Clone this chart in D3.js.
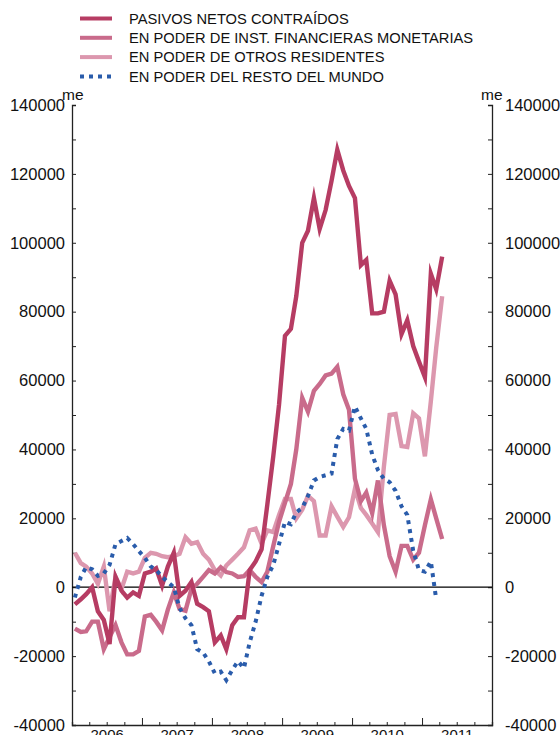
<!DOCTYPE html>
<html>
<head>
<meta charset="utf-8">
<script src="https://cdn.jsdelivr.net/npm/d3@7"></script>
<style>
  body { margin: 0; background: #fff; }
  svg { display: block; font-family: "Liberation Sans", Arial, Helvetica, sans-serif; }
</style>
</head>
<body>
<svg id="chart" width="560" height="735"></svg>
<script>
// monthly series, Jan 2006 .. Apr 2011 (millones de euros)
const months = d3.timeMonth.range(new Date(2006, 0, 1), new Date(2011, 4, 1));

const pasivosNetos = [
  -5000, -3500, -2000, 0, -7000, -9500, -16500, 3000, -1000, -3000, -1500, -2500,
  4000, 4500, 5500, 500, 6000, 10000, -2500, -1000, 1500, -4800, -5800, -7000,
  -16000, -14000, -18000, -11000, -8700, -8700, 5000, 7500, 11000, 24000, 38000, 53000,
  73000, 75000, 84500, 100000, 103500, 113000, 104000, 109500, 118000, 127000, 121000, 116500,
  113000, 93500, 95000, 79500, 79500, 80000, 89000, 85000, 73500, 77500, 70000, 65500,
  61000, 91000, 86500, 96000
];

const instFinancieras = [
  -12000, -13000, -12800, -10000, -10000, -18000, -14500, -11000, -16000, -19500, -19500, -18500,
  -8500, -8000, -10000, -12500, -6500, -1500, -6300, -6800, -500, 1000, 3000, 5000,
  4000, 5800, 4400, 4000, 3000, 3200, 5000, 3000, 1500, 4500, 12000, 19000,
  24500, 30000, 40000, 55000, 51000, 57000, 59000, 61500, 62000, 64000, 56000, 51500,
  31500, 25000, 27500, 21500, 31000, 18000, 9000, 4500, 12000, 12000, 8000, 10000,
  18000, 25500, 20000, 14000
];

const otrosResidentes = [
  10000, 7000, 6000, 4000, 1000, 6000, -7000, 3000, -500, 4500, 4000, 4500,
  8500, 10000, 9700, 9000, 8700, 9000, 9700, 14500, 12600, 13100, 9700, 8000,
  5000, 3400, 6300, 8000, 9700, 11600, 16500, 17000, 12600, 16500, 16000, 21000,
  25600, 25600, 20000, 22500, 26500, 25000, 15000, 15000, 23500, 20500, 17500, 20300,
  28600, 23000, 21000, 18500, 16000, 35000, 50000, 50300, 41000, 40700, 50500, 49000,
  38000, 54000, 69500, 84500
];

const restoMundo = [
  -3000, 3000, 5800, 5200, 3300, 4000, 6500, 12500, 13400, 14300, 12500, 10500,
  8500, 6000, 5000, 3000, 1500, 0, -6000, -9000, -11000, -18000, -19000, -21500,
  -25000, -24500, -27000, -24000, -21500, -23500, -16000, -10000, -2500, 3000, 6500, 12500,
  19000, 18300, 21800, 23000, 26500, 31000, 32000, 32500, 33000, 43000, 46000, 45500,
  52500, 49000, 46000, 38500, 34000, 31500, 30500, 28000, 23500, 21000, 10600, 5000,
  4500, 7500, -3500
];

const series = [
  { name: "EN PODER DE OTROS RESIDENTES", values: otrosResidentes, color: "#dc97ae", dash: null },
  { name: "EN PODER DE INST. FINANCIERAS MONETARIAS", values: instFinancieras, color: "#c96b8b", dash: null },
  { name: "PASIVOS NETOS CONTRAÍDOS", values: pasivosNetos, color: "#b63c63", dash: null },
  { name: "EN PODER DEL RESTO DEL MUNDO", values: restoMundo, color: "#2a5cab", dash: "4,5" }
];
const legendOrder = [2, 1, 0, 3];

const yTicks = d3.range(-40000, 140001, 10000);
const years = [2006, 2007, 2008, 2009, 2010, 2011];

// layout
const svg = d3.select("#chart");
const margin = { left: 72, right: 492, top: 105, bottom: 725 };

const x = d3.scaleTime()
  .domain([new Date(2006, 0, 1), new Date(2012, 0, 1)])
  .range([margin.left, margin.right]);

const y = d3.scaleLinear()
  .domain([-40000, 140000])
  .range([margin.bottom, margin.top]);

// mid-month position for each point
const xm = d => x(d3.timeDay.offset(d, 15));

// y axes
const fmt = d => (d % 20000 === 0 ? String(d) : "");

svg.append("g")
  .attr("transform", `translate(${margin.left},0)`)
  .call(d3.axisLeft(y).tickValues(yTicks).tickSize(-4).tickPadding(7).tickFormat(fmt))
  .call(g => g.selectAll("text").style("font-size", "16.5px").attr("fill", "#111"));

svg.append("g")
  .attr("transform", `translate(${margin.right},0)`)
  .call(d3.axisRight(y).tickValues(yTicks).tickSize(-4).tickPadding(13).tickFormat(fmt))
  .call(g => g.selectAll("text").style("font-size", "16.5px").attr("fill", "#111"));

// bottom axis: quarter ticks, longer at year boundaries
const quarters = d3.timeMonth.every(3).range(new Date(2006, 0, 1), new Date(2012, 0, 2));
svg.append("g")
  .attr("transform", `translate(0,${margin.bottom})`)
  .call(d3.axisBottom(x).tickValues(quarters).tickSize(-3).tickFormat(""))
  .call(g => g.selectAll(".tick line")
    .attr("y2", d => d.getMonth() === 0 ? -7 : -3));

svg.append("g")
  .attr("transform", `translate(0,${margin.bottom})`)
  .call(d3.axisBottom(x)
    .tickValues(years.map(yr => new Date(yr, 6, 1)))
    .tickSize(0).tickPadding(4)
    .tickFormat(d3.timeFormat("%Y")))
  .call(g => g.select(".domain").remove())
  .call(g => g.selectAll("text").style("font-size", "15px").attr("fill", "#111"));

svg.selectAll(".domain").attr("stroke", "#222").attr("stroke-width", 1.3);
svg.selectAll(".tick line").attr("stroke", "#222");

// unit labels
svg.append("text").attr("x", 62).attr("y", 100)
  .style("font-size", "15.5px").attr("fill", "#111").text("me");
svg.append("text").attr("x", 481).attr("y", 100)
  .style("font-size", "15.5px").attr("fill", "#111").text("me");

// zero line
svg.append("line")
  .attr("x1", margin.left).attr("x2", margin.right)
  .attr("y1", y(0)).attr("y2", y(0))
  .attr("stroke", "#000").attr("stroke-width", 1.3);

// lines
const line = d3.line()
  .x((d, i) => xm(months[i]))
  .y(d => y(d));

svg.selectAll(".series")
  .data(series)
  .join("path")
  .attr("class", "series")
  .attr("d", s => line(s.values))
  .attr("fill", "none")
  .attr("stroke", s => s.color)
  .attr("stroke-width", s => s.dash ? 4 : 4.4)
  .attr("stroke-dasharray", s => s.dash)
  .attr("stroke-linejoin", "miter")
  .attr("stroke-miterlimit", 6);

// legend
const legend = svg.append("g");
const rows = legend.selectAll("g")
  .data(legendOrder.map(i => series[i]))
  .join("g")
  .attr("transform", (d, i) => `translate(0,${18.5 + i * 19.3})`);

rows.append("line")
  .attr("x1", 80).attr("x2", 112)
  .attr("stroke", d => d.color)
  .attr("stroke-width", 4)
  .attr("stroke-dasharray", d => d.dash);

rows.append("text")
  .attr("x", 129).attr("dy", "0.36em")
  .style("font-size", "14.7px").attr("fill", "#111")
  .text(d => d.name);
</script>
</body>
</html>
